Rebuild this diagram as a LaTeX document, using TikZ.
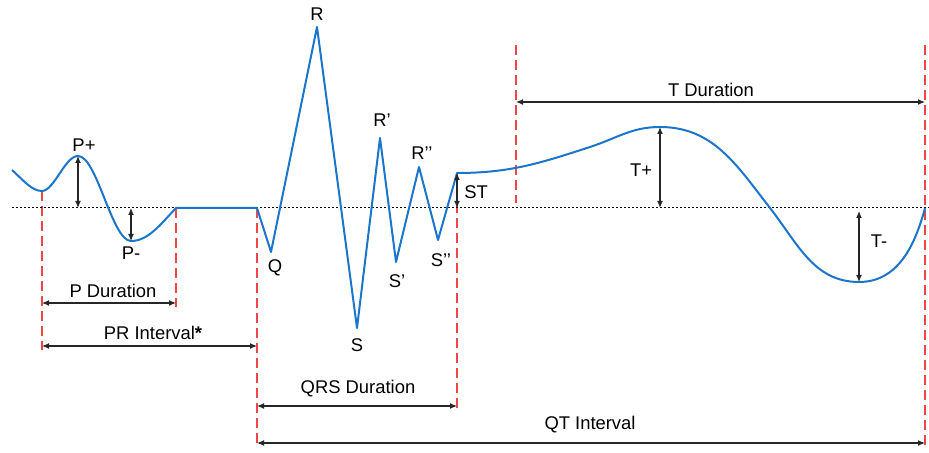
\documentclass[tikz,border=0pt]{standalone}
\usepackage{fontspec}
\setmainfont{Liberation Sans}
\usetikzlibrary{arrows.meta}
\definecolor{ecg}{RGB}{27,117,203}
\definecolor{mk}{RGB}{240,70,70}
\tikzset{w/.style={draw=ecg,line width=1pt,line join=round},
 rd/.style={draw=mk,line width=0.9pt,dash pattern=on 5pt off 2.5pt},
 bl/.style={draw=black,line width=0.5pt,dash pattern=on 1pt off 1pt},
 dm/.style={draw=black!85,line width=0.6pt,{Latex[length=3.5pt,width=3pt]}-{Latex[length=3.5pt,width=3pt]}},
 lb/.style={font=\fontsize{9.2}{11}\selectfont,inner sep=0pt}}

\begin{document}
\begin{tikzpicture}[x=0.5pt,y=0.5pt]
\useasboundingbox (0,0) rectangle (929,453);
% wave points
\coordinate (a) at (12,283);\coordinate (p0) at (42,262);\coordinate (pp) at (78,297);\coordinate (pn) at (131,212);
\coordinate (pe) at (176,245);\coordinate (q0) at (257,245);\coordinate (q) at (271,201);\coordinate (r) at (317,426);
\coordinate (s) at (357,125);\coordinate (r1) at (380,315);\coordinate (s1) at (396,191);\coordinate (r2) at (419,286);
\coordinate (s2) at (438,213);\coordinate (jp) at (457,280);\coordinate (tm) at (590,306);\coordinate (tp) at (660,326);
\coordinate (tx) at (770,245);\coordinate (tn) at (859,171);\coordinate (te) at (925,245);\coordinate (t0) at (516,250);
\coordinate (bl0) at (12,245);\coordinate (bl1) at (929,245);
% markers
\draw[rd](p0)--(42,103);\draw[rd](pe)--(176,146);\draw[rd](q0)--(257,6);\draw[rd](jp)--(457,43);
\draw[rd](516,408)--(t0);\draw[rd](925,408)--(925,6);
\draw[bl](bl0)--(bl1);
\draw[w](a) .. controls (24,272) and (32,262) .. (p0) .. controls (54,262) and (65,297) .. (pp)
 .. controls (97,297) and (112,212) .. (pn) .. controls (148,212) and (160,228) .. (pe)--(q0)
 --(q)--(r)--(s)--(r1)--(s1)--(r2)--(s2)--(jp) to[out=0,in=198](tm) to[out=18,in=180](tp)
 to[out=0,in=128](tx) to[out=-52,in=180](tn) to[out=0,in=-105](te);
% amplitudes
\draw[dm](pp)--(pp|-bl0);\draw[dm](pn|-bl0)--(pn);\draw[dm](jp)--(jp|-bl0);
\draw[dm](tp)--(tp|-bl0);\draw[dm]([yshift=-1.5]tn|-bl0)--(tn);
% durations
\draw[dm](42,150)--(176,150);\draw[dm](42,107)--(257,107);\draw[dm](257,47)--(457,47);
\draw[dm](257,10)--(925,10);\draw[dm](516,351)--(925,351);
% labels
\node[lb](lpp) at (84,308){P+};\node[lb](lpn) at (131,200){P-};\node[lb](lq) at (275,185){Q};
\node[lb](lr) at (317,439){R};\node[lb](ls) at (357,108){S};\node[lb](lr1) at (382,333){R’};
\node[lb](ls1) at (397,172){S’};\node[lb](lr2) at (422,300){R’’};\node[lb](ls2) at (441,193){S’’};
\node[lb](lst) at (476,261){ST};\node[lb](ltp) at (641,283){T+};\node[lb](ltn) at (879,212){T-};
\node[lb](lpd) at (113,162){P Duration};\node[lb](lpr) at (153,120){PR Interval\textbf{*}};
\node[lb](lqrs) at (358,64){QRS Duration};\node[lb](lqt) at (590,28){QT Interval};
\node[lb](ltd) at (711,363){T Duration};
\end{tikzpicture}
\end{document}
